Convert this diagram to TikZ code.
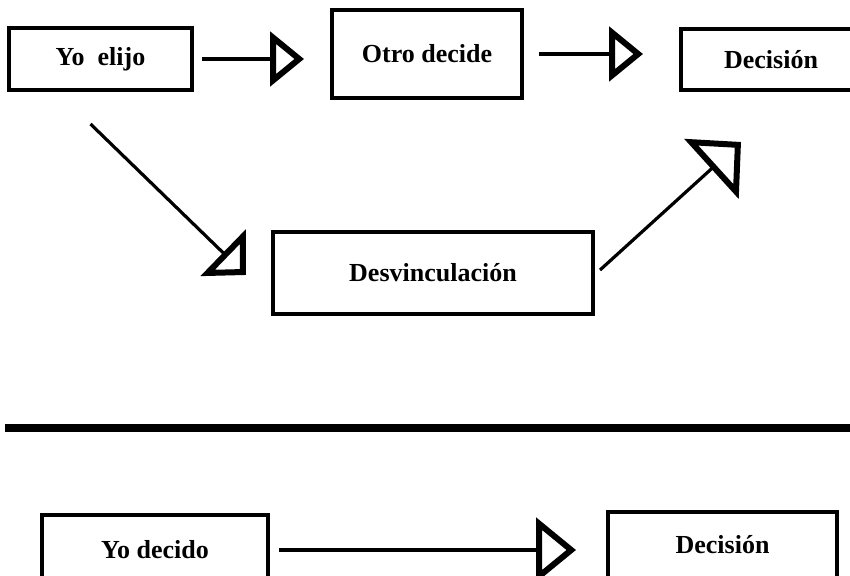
\documentclass[tikz,border=0pt]{standalone}
\usepackage{fontspec}
\setmainfont{Liberation Serif}
\usetikzlibrary{arrows.meta}
\begin{document}
\begin{tikzpicture}[x=0.5pt,y=-0.5pt,
        box/.style={draw,line width=2pt,rectangle,inner sep=0pt,font=\fontsize{13}{16}\selectfont\bfseries},
        conn/.style={line width=1.6pt},
        tipH/.style={-{Triangle[open,length=17pt,width=27pt,line width=3pt]}},
        tipD/.style={-{Triangle[open,length=16pt,width=32pt,line width=3pt]}}]
                \useasboundingbox (0,0) rectangle (850,576);
                \node[box,minimum width=91.5pt,minimum height=31pt] (elijo) at (100.5,59) {Yo\ \ elijo};
                \node[box,minimum width=95pt,minimum height=44pt] (otro) at (427,54) {Otro decide};
                \node[box,minimum width=90pt,minimum height=30.5pt] (dec1) at (771,59.5) {Decisión};
                \node[box,minimum width=160pt,minimum height=41pt] (desv) at (433,273) {Desvinculación};
                \node[box,minimum width=113pt,minimum height=35pt] (decido) at (155,550) {Yo decido};
                \node[box,minimum width=114.5pt,minimum height=33pt] (dec2) at (722.5,545) {Decisión};
                \draw[conn,tipH,shorten <=4pt,shorten >=13pt] (elijo.east) -- (elijo.east -| otro.west);
                \draw[conn,tipH,shorten <=7.5pt,shorten >=18pt] (otro.east) -- (otro.east -| dec1.west);
                \draw[conn,tipD] ([shift={(-10,32)}]elijo.south) -- ([shift={(-25,2)}]desv.west);
                \draw[conn,-{Triangle[open,length=20pt,width=40pt,line width=3pt]}] ([shift={(5,-3)}]desv.east) -- ([shift={(-30,50)}]dec1.south);
                \draw[conn,-{Triangle[open,length=20pt,width=32pt,line width=3pt]},shorten <=4.5pt,shorten >=15pt] (decido.east) -- (decido.east -| dec2.west);
                \draw[line width=4pt] (5,428) -- (850,428);
        \end{tikzpicture}
\end{document}
